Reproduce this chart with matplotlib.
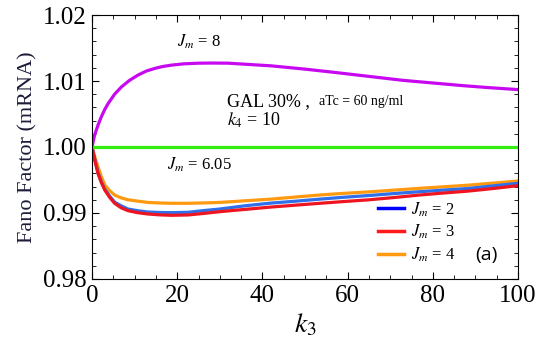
import numpy as np
import matplotlib
matplotlib.use('Agg')
import matplotlib.pyplot as plt
from matplotlib.ticker import MultipleLocator, FormatStrFormatter
from matplotlib.lines import Line2D

plt.rcParams['font.family'] = 'Liberation Serif'
plt.rcParams['mathtext.fontset'] = 'stix'

# Jm = 8
k_p = [0, 0.6, 1.4, 2.2, 3.0, 3.8, 5.3, 6.9, 8.8, 10.8, 12.7, 14.7, 16.6, 18.6,
       21.5, 25, 28, 32, 37, 42, 50, 57, 65, 73, 80, 87, 93, 100]
F_p = [1.0, 1.0018, 1.0033, 1.0046, 1.0057, 1.0066, 1.0080, 1.0091, 1.0101, 1.0109,
       1.0115, 1.0119, 1.0122, 1.0124, 1.0126, 1.0127, 1.01272, 1.0127, 1.0125,
       1.0123, 1.0118, 1.0113, 1.0107, 1.0101, 1.0097, 1.0093, 1.0090, 1.0087]
# Jm = 6.05
k_g = [0, 50, 100]
F_g = [1.0, 1.0, 1.0]
# Jm = 2, 3, 4
k_low = [0, 0.23, 0.8, 1.4, 2.2, 3.0, 4.1, 5.3, 6.8, 8.45, 10.7, 13.1, 15.8, 18.6,
         22.5, 26, 30, 36, 42, 48, 53.5, 59, 65, 71, 77, 82, 88, 94, 100]
F_blue = [1.0, 0.9993, 0.9977, 0.9961, 0.9947, 0.9936, 0.9926, 0.99165, 0.9911,
          0.9906, 0.99035, 0.99015, 0.99008, 0.99005, 0.9901, 0.99035, 0.9906,
          0.9911, 0.9915, 0.9918, 0.9921, 0.99238, 0.99265, 0.99295, 0.99323,
          0.99345, 0.9937, 0.9941, 0.9945]
F_red = [1.0, 0.9993, 0.9976, 0.9960, 0.9946, 0.99348, 0.9924, 0.99147, 0.9908,
         0.99035, 0.99005, 0.98985, 0.98972, 0.98965, 0.9897, 0.98992, 0.9902,
         0.99055, 0.9909, 0.9912, 0.99147, 0.99173, 0.9920, 0.99235, 0.99273,
         0.993, 0.9933, 0.9937, 0.99414]
F_orange = [1.0, 0.9995, 0.9982, 0.9970, 0.9955, 0.99424, 0.9934, 0.99273, 0.9923,
            0.9920, 0.9918, 0.9916, 0.99152, 0.99147, 0.99147, 0.99152, 0.9916,
            0.99185, 0.9921, 0.99243, 0.99273, 0.99297, 0.9932, 0.99347, 0.99374,
            0.99395, 0.9942, 0.99452, 0.99485]

fig = plt.figure(figsize=(5.4, 3.54), dpi=100)
ax = fig.add_axes([0.1704, 0.2119, 0.7889, 0.7457])

lw = 2.3
ax.plot(k_low, F_orange, color='#ff9a10', lw=lw)
ax.plot(k_low, F_blue, color='#2f6fea', lw=lw)
ax.plot(k_low, F_red, color='#ee1520', lw=lw)
ax.plot(k_p, F_p, color='#c808f0', lw=lw)
ax.plot(k_g, F_g, color='#33ee10', lw=lw)

ax.set_xlim(0, 100)
ax.set_ylim(0.98, 1.02)
ax.xaxis.set_major_locator(MultipleLocator(20))
ax.xaxis.set_minor_locator(MultipleLocator(5))
ax.yaxis.set_major_locator(MultipleLocator(0.01))
ax.yaxis.set_minor_locator(MultipleLocator(0.002))
ax.yaxis.set_major_formatter(FormatStrFormatter('%.2f'))
ax.tick_params(which='both', direction='in', top=True, right=True, labelsize=18, pad=4)
ax.tick_params(which='major', length=5, width=0.8)
ax.tick_params(which='minor', length=3, width=0.6)

ax.set_xlabel('$k_3$', fontsize=20, labelpad=4)
ax.set_ylabel('Fano Factor (mRNA)', fontsize=16, color='#1c1c38', labelpad=4)

ax.text(19.9, 1.0159, '$J_m$ = 8', fontsize=12, va='center')
ax.text(17.5, 0.9973, '$J_m$ = 6.05', fontsize=12, va='center')
ax.text(31.6, 1.0069, 'GAL 30% ,', fontsize=13, va='center')
ax.text(53.3, 1.0069, 'aTc = 60 ng/ml', fontsize=10, va='center')
ax.text(31.6, 1.0040, '$k_4$ = 10', fontsize=13, va='center')
ax.text(90, 0.9837, '(a)', fontsize=14, va='center', family='Open Sans')

handles = [Line2D([], [], color='blue', lw=2.5),
           Line2D([], [], color='#ff1a1a', lw=2.5),
           Line2D([], [], color='#ff9a10', lw=2.5)]
labels = ['$J_m$ = 2', '$J_m$ = 3', '$J_m$ = 4']
ax.legend(handles, labels, frameon=False, fontsize=12, handlelength=1.6,
          handletextpad=0.4, labelspacing=0.25, loc='upper left',
          bbox_to_anchor=(0.635, 0.355))

fig.savefig('out.png', dpi=100)
